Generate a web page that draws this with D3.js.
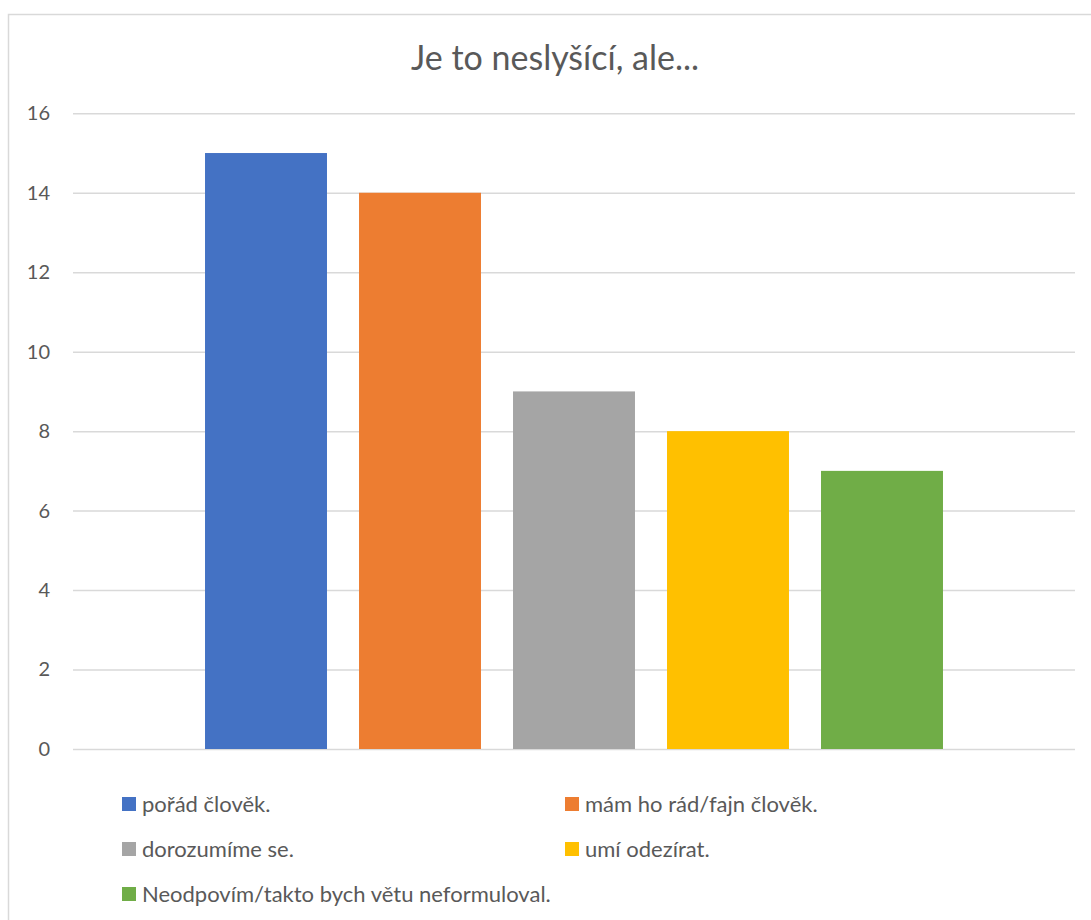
<!DOCTYPE html>
<html><head><meta charset="utf-8">
<script src="https://cdn.jsdelivr.net/npm/d3@7"></script>
<style>body{margin:0;background:#fff;} text{font-family:Lato,"Noto Sans",sans-serif;}</style>
</head><body>
<svg id="c" width="1091" height="920"></svg>
<script>
const title = "Je to neslyšící, ale...";
const series = ["pořád člověk.", "mám ho rád/fajn člověk.", "dorozumíme se.", "umí odezírat.", "Neodpovím/takto bych větu neformuloval."];
const values = [15, 14, 9, 8, 7];
const colors = ["#4472C4", "#ED7D31", "#A5A5A5", "#FFC000", "#70AD47"];
const yTicks = [0, 2, 4, 6, 8, 10, 12, 14, 16];

const svg = d3.select("#c");
svg.append("rect").attr("x", 8.5).attr("y", 14.5).attr("width", 1200).attr("height", 1000)
  .attr("fill", "#fff").attr("stroke", "#d9d9d9").attr("stroke-width", 1.5);

const plotL = 73, plotR = 1075;
const y = d3.scaleLinear().domain([0, 16]).range([749, 113.3]);
// one category containing five series
const outer = d3.scaleBand().domain(["cat"]).range([plotL, plotR]).paddingInner(0).paddingOuter(0.1789);
const x = d3.scaleBand().domain(series).range([outer("cat"), outer("cat") + outer.bandwidth()]).paddingInner(0.208).paddingOuter(0);

const yAxis = d3.axisLeft(y).tickValues(yTicks).tickSize(-(plotR - plotL)).tickPadding(23).tickFormat(d3.format("d"));
const ga = svg.append("g").attr("transform", `translate(${plotL},0)`).call(yAxis);
ga.select(".domain").remove();
ga.selectAll(".tick line").attr("stroke", "#d9d9d9").attr("stroke-width", 1.5);
ga.selectAll(".tick text").attr("fill", "#595959").style("font-size", "20px").style("font-family", "Lato");

svg.append("g").selectAll("rect").data(values).join("rect")
  .attr("x", (d, i) => x(series[i]))
  .attr("width", x.bandwidth())
  .attr("y", d => y(d))
  .attr("height", d => y(0) - y(d))
  .attr("fill", (d, i) => colors[i]);

svg.append("text").attr("x", 555).attr("y", 70).attr("text-anchor", "middle")
  .attr("fill", "#595959").style("font-size", "34px").text(title);

const legPos = [[122, 804], [565, 804], [122, 849], [565, 849], [122, 894]];
const lg = svg.append("g").selectAll("g").data(series).join("g")
  .attr("transform", (d, i) => `translate(${legPos[i][0]},${legPos[i][1]})`);
lg.append("rect").attr("x", 0).attr("y", -7).attr("width", 14).attr("height", 14).attr("fill", (d, i) => colors[i]);
lg.append("text").attr("x", 20).attr("y", 0).attr("dy", "0.35em").attr("fill", "#595959")
  .style("font-size", "22px").text(d => d);
</script>
</body></html>
